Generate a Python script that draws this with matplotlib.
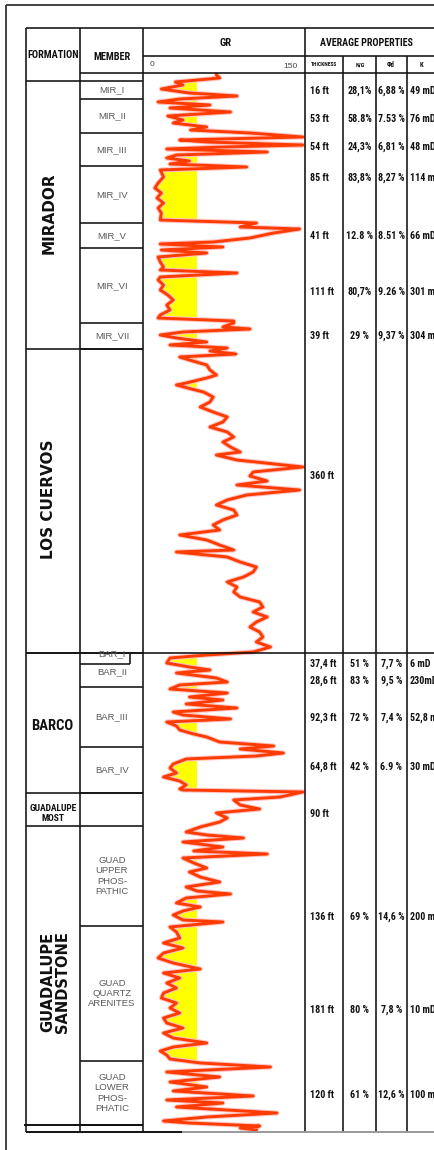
import matplotlib
matplotlib.use("Agg")
import matplotlib.pyplot as plt
from matplotlib import font_manager
import numpy as np

# ---------------- data ----------------
# GR log (API); depth in log units from top of the track
depth = [0, 2, 5, 9, 12, 16, 20, 23, 26, 29, 32, 35, 39, 43, 47, 50, 54, 57, 60, 64,
         67, 69, 72, 74, 76, 79, 82, 85, 88, 91, 94, 97, 104, 110, 115, 120, 125, 130, 135, 140,
         147, 150, 154, 156, 160, 165, 169, 171, 174, 177, 180, 184, 189, 194, 197, 200, 204, 207, 212, 217,
         222, 227, 232, 237, 242, 245, 248, 250, 254, 256, 259, 262, 265, 269, 272, 275, 278, 281, 284, 287,
         292, 297, 302, 305, 310, 312, 316, 319, 324, 329, 334, 339, 344, 349, 354, 359, 364, 369, 374, 379,
         382, 387, 392, 394, 399, 403, 408, 412, 417, 422, 427, 432, 437, 442, 447, 452, 457, 462, 467, 472,
         477, 479, 484, 489, 494, 499, 504, 509, 514, 519, 524, 529, 534, 539, 544, 549, 554, 559, 564, 569,
         574, 579, 582, 585, 590, 594, 597, 600, 605, 609, 612, 616, 620, 624, 627, 631, 635, 639, 642, 646,
         649, 653, 657, 661, 664, 669, 673, 676, 680, 683, 686, 691, 695, 700, 704, 708, 712, 716, 717, 719,
         724, 727, 732, 736, 740, 745, 749, 754, 759, 762, 765, 769, 774, 778, 781, 785, 790, 795, 799, 804,
         809, 814, 818, 821, 825, 830, 834, 838, 842, 847, 849, 854, 859, 865, 870, 875, 880, 885, 890, 896,
         900, 905, 910, 915, 920, 925, 930, 935, 940, 945, 950, 955, 960, 965, 970, 974, 978, 982, 986, 990,
         994, 999, 1004, 1009, 1014, 1018, 1023, 1027, 1030, 1034, 1040, 1044, 1048, 1050, 1053, 1055, 1057]
gr = [68, 68, 71, 30, 37, 17, 43, 87, 34, 14, 62, 25, 81, 23, 37, 28, 59, 44, 99, 148,
      34, 59, 148, 74, 22, 115, 31, 22, 43, 25, 96, 16, 19, 14, 11, 17, 13, 19, 14, 17,
      16, 105, 90, 145, 121, 99, 65, 16, 74, 17, 59, 14, 16, 19, 16, 87, 16, 14, 19, 16,
      23, 28, 22, 25, 16, 14, 84, 84, 74, 99, 37, 16, 31, 59, 25, 78, 62, 86, 34, 43,
      59, 62, 68, 59, 40, 31, 45, 56, 65, 62, 53, 65, 78, 74, 62, 78, 84, 74, 81, 90,
      68, 87, 130, 148, 102, 99, 115, 87, 145, 96, 78, 68, 84, 87, 74, 65, 71, 34, 59, 71,
      84, 31, 78, 90, 105, 102, 93, 78, 87, 84, 90, 108, 111, 102, 115, 105, 99, 108, 111, 105,
      118, 102, 59, 25, 22, 43, 62, 31, 68, 78, 34, 25, 78, 43, 74, 40, 87, 28, 37, 81,
      22, 31, 34, 47, 59, 71, 121, 90, 130, 105, 40, 28, 25, 31, 19, 34, 40, 34, 37, 148,
      127, 84, 90, 108, 68, 78, 71, 53, 40, 59, 93, 37, 74, 47, 115, 37, 47, 59, 43, 53,
      71, 40, 50, 81, 40, 31, 53, 37, 28, 37, 74, 25, 31, 34, 19, 37, 19, 14, 28, 53,
      19, 34, 22, 31, 19, 17, 31, 25, 34, 19, 22, 37, 19, 28, 59, 28, 16, 22, 25, 53,
      118, 22, 71, 25, 59, 28, 102, 22, 74, 31, 124, 59, 19, 43, 108, 90, 105]
gr_min, gr_max = 0, 150
sand_cutoff = 50

formations = ["MIRADOR", "LOS CUERVOS", "BARCO", "GUADALUPE\nMOST", "GUADALUPE\nSANDSTONE"]
formation_tops = [8, 276, 580, 720, 753]
formation_bases = [276, 580, 720, 753, 1059]

members = ["MIR_I", "MIR_II", "MIR_III", "MIR_IV", "MIR_V", "MIR_VI", "MIR_VII",
           "BAR_I", "BAR_II", "BAR_III", "BAR_IV",
           "GUAD\nUPPER\nPHOS-\nPATHIC", "GUAD\nQUARTZ\nARENITES", "GUAD\nLOWER\nPHOS-\nPHATIC"]
member_tops = [8, 26, 60, 93, 150, 175, 250, 580, 591, 614, 674, 753, 853, 988]
member_bases = [26, 60, 93, 150, 175, 250, 276, 591, 614, 674, 720, 853, 988, 1052]

thickness = ["16 ft", "53 ft", "54 ft", "85 ft", "41 ft", "111 ft", "39 ft", "360 ft",
             "37,4 ft", "28,6 ft", "92,3 ft", "64,8 ft", "90 ft", "136 ft", "181 ft", "120 ft"]
net_gross = ["28,1%", "58.8%", "24,3%", "83,8%", "12.8 %", "80,7%", "29 %", "",
             "51 %", "83 %", "72 %", "42 %", "", "69 %", "80 %", "61 %"]
porosity = ["6,88 %", "7.53 %", "6,81 %", "8,27 %", "8.51 %", "9.26 %", "9,37 %", "",
            "7,7 %", "9,5 %", "7,4 %", "6.9 %", "", "14,6 %", "7,8 %", "12,6 %"]
permeab = ["49 mD", "76 mD", "48 mD", "114 mD", "66 mD", "301 mD", "304 mD", "",
           "6 mD", "230mD", "52,8 mD", "30 mD", "", "200 mD", "10 mD", "100 mD"]
prop_depth = [18, 46, 74, 105, 163, 219, 263, 403, 591, 608, 645, 694, 741, 844, 937, 1022]

# ---------------- fonts ----------------
installed = {f.name for f in font_manager.fontManager.ttflist}
narrow_name = None
for cand in ["Liberation Sans Narrow", "Arial Narrow", "Roboto Condensed",
             "DejaVu Sans Condensed", "Open Sans Condensed"]:
    if cand in installed:
        narrow_name = cand
        break
if narrow_name:
    NARROW = [narrow_name, "DejaVu Sans"]
    NS = 1.0
else:
    NARROW = ["Liberation Sans", "DejaVu Sans"]
    NS = 0.84
SANS = ["Liberation Sans", "DejaVu Sans"]

# ---------------- layout ----------------
W, H = 435, 1150
TOP = 73          # pixel row of depth 0

fig = plt.figure(figsize=(W / 100, H / 100), dpi=100)
fig.patch.set_facecolor("white")

# GR track
gx0, gx1 = 143, 305
base = formation_bases[-1]
axg = fig.add_axes([gx0 / W, (H - TOP - base) / H, (gx1 - gx0) / W, base / H])
axg.set_xlim(gr_min, gr_max)
axg.set_ylim(base, 0)
axg.axis("off")
axg.patch.set_alpha(0)
d = np.array(depth, float)
g = np.array(gr, float)
axg.fill_betweenx(d, g, sand_cutoff, where=g < sand_cutoff, interpolate=True,
                  color="#FFFF00", lw=0, zorder=1)
axg.plot(g, d, color="#FFC4C4", lw=3.6, zorder=2)
axg.plot(g, d, color="#FF3C00", lw=2.1, zorder=3)

# overlay (pixels in x, depth units in y)
ax = fig.add_axes([0, 0, 1, 1])
ax.set_xlim(0, W)
ax.set_ylim(H - TOP, -TOP)
ax.axis("off")
ax.patch.set_alpha(0)

LW = 1.15
K = "#111111"

def hl(y, x0, x1, lw=LW, c=K):
    ax.plot([x0, x1], [y, y], color=c, lw=lw, solid_capstyle="butt")

def vl(x, y0, y1, lw=LW, c=K):
    ax.plot([x, x], [y0, y1], color=c, lw=lw, solid_capstyle="butt")

def py(p):  # pixel row -> overlay y
    return p - TOP

# outer frame
vl(6, py(5), py(1150), lw=1.3, c="#333333")
hl(py(5), 6, W, lw=1.3, c="#333333")

# table verticals
table_bottom = base
for x in [26, 80, gx0, gx1]:
    vl(x, py(28), table_bottom)
for x in [343, 376, 407]:
    vl(x, py(56), table_bottom)
# header horizontals
hl(py(28), 26, W)
hl(py(56), gx0, W)
hl(py(73), 80, W)
hl(py(81), 26, gx0)

# formation boundaries
for t in formation_tops[1:]:
    hl(t, 26, gx0)
hl(formation_tops[2], 26, W)      # Barco top crosses the whole table
# member boundaries
for name, t, b in zip(members, member_tops, member_bases):
    if name == "BAR_I":
        hl(b, 80, 130)
        vl(130, t, b)
    else:
        hl(b, 80, gx0)
hl(member_bases[-1], 24, gx0, lw=1.4)
hl(base, 26, 182, lw=1.4)
hl(base, 182, W, lw=1.4, c="#9a9a9a")

# header text
hdr = dict(family=NARROW, weight="bold", color=K, ha="center", va="center")
ax.text(53, py(55), "FORMATION", fontsize=7.4 * NS, **hdr)
ax.text(112, py(57), "MEMBER", fontsize=7.4 * NS, **hdr)
ax.text(226, py(43), "GR", fontsize=7.6 * NS, **hdr)
ax.text(366, py(43), "AVERAGE PROPERTIES", fontsize=7.2 * NS, **hdr)
ax.text(152, py(65), str(gr_min), fontsize=6, family=SANS, color="#444444", ha="center", va="center")
ax.text(290, py(66), str(gr_max), fontsize=6, family=SANS, color="#444444", ha="center", va="center")
sub = dict(family=NARROW, weight="bold", color=K, ha="center", va="center")
ax.text(324, py(65), "THICKNESS", fontsize=4.0 * NS, **sub)
ax.text(360, py(65), "N/G", fontsize=4.4 * NS, **sub)
ax.text(391, py(65), "Φd", fontsize=4.8 * NS, **sub)
ax.text(421, py(65), "K", fontsize=4.8 * NS, **sub)

# formation names
for name, t, b in zip(formations, formation_tops, formation_bases):
    c = (t + b) / 2
    if name in ("MIRADOR", "LOS CUERVOS"):
        ax.text(49, c - 2, name, rotation=90, fontsize=11, weight="bold",
                family=["DejaVu Sans"], ha="center", va="center", color=K)
    elif name == "BARCO":
        ax.text(52, c + 3, name, fontsize=10.5 * NS, weight="bold", family=NARROW,
                ha="center", va="center", color=K)
    elif name == "GUADALUPE\nMOST":
        ax.text(53, c + 4, name, fontsize=6.8 * NS, weight="bold", family=NARROW,
                ha="center", va="center", color=K, linespacing=1.15)
    else:
        ax.text(55, c + 3, name, rotation=90, fontsize=10.5, weight="bold",
                family=["DejaVu Sans"], ha="center", va="center", color=K,
                linespacing=1.0, multialignment="center")

# member names
for name, t, b in zip(members, member_tops, member_bases):
    c = (t + b) / 2
    if name == "BAR_I":
        c = t + 1
    elif name == "BAR_II":
        c = t + 8
    ax.text(112, c, name, fontsize=6.8, family=SANS, color="#5a5a5a",
            ha="center", va="center", linespacing=1.2)

# properties
val = dict(family=NARROW, weight="bold", color=K, va="center", fontsize=7.2 * NS)
for th, ng, ph, kk, yy in zip(thickness, net_gross, porosity, permeab, prop_depth):
    ax.text(310, yy, th, ha="left", **val)
    ax.text(359.5, yy, ng, ha="center", **val)
    ax.text(391.5, yy, ph, ha="center", **val)
    ax.text(410, yy, kk, ha="left", **val)

fig.savefig("out.png", dpi=100, facecolor="white")
